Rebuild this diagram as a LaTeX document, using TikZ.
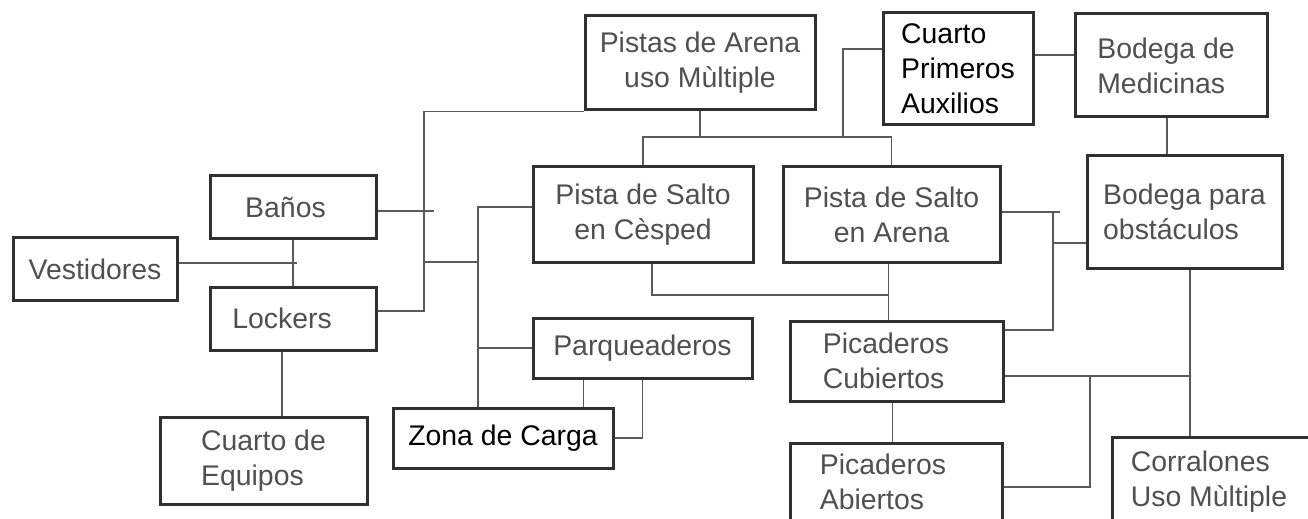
\documentclass[tikz,border=0pt]{standalone}
\usepackage{fontspec}
\setmainfont{Liberation Sans}
\usetikzlibrary{arrows,shapes,positioning,calc}
\definecolor{gristexte}{HTML}{505050}
\definecolor{grisbord}{HTML}{303030}
\definecolor{grisligne}{HTML}{5A5A5A}

\begin{document}
\begin{tikzpicture}[x=0.5pt, y=-0.5pt]
% cases et liens de l'organigramme
\tikzset{caja/.style={draw=grisbord, line width=1.5pt, text=gristexte, fill=white,
  font=\fontsize{14.2}{17.4}\selectfont, inner sep=0pt, align=center},
  lien/.style={grisligne, line width=0.8pt}}
\clip (0,0) rectangle (1308,519);
\fill[white] (0,0) rectangle (1308,519);

%colonne de gauche
\node[caja, minimum width=82pt, minimum height=31pt] (vest) at (95,269) {Vestidores};
\node[caja, minimum width=83pt, minimum height=31.5pt] (banos) at (293,207.5) {Baños\hspace*{7.5pt}};
\node[caja, minimum width=83pt, minimum height=31.5pt] (lockers) at (293,318.5) {Lockers\hspace*{11pt}};
\node[caja, align=left, minimum width=103.5pt, minimum height=43.5pt] (equipos) at (263.5,460.5) {Cuarto de\\Equipos};

%centre
\node[caja, text=black, minimum width=110pt, minimum height=30pt] (zona) at (503,438) {Zona de Carga};
\node[caja, minimum width=109.5pt, minimum height=30pt] (parq) at (642.5,348) {Parqueaderos};
\node[caja, minimum width=110pt, minimum height=47.5pt] (cesped) at (643,214.5) {Pista de Salto\\en Cèsped};
\node[caja, minimum width=115pt, minimum height=47pt] (arenamult) at (700,63) {Pistas de Arena\\uso Mùltiple};
\node[caja, minimum width=108.5pt, minimum height=47.5pt] (salarena) at (891.5,214.5) {Pista de Salto\\en Arena};
\node[caja, align=left, minimum width=106.5pt, minimum height=40pt] (cubiertos) at (896.5,361) {Picaderos\hspace*{10.5pt}\\Cubiertos};
\node[caja, align=left, minimum width=106pt, minimum height=39pt] (abiertos) at (896,482) {Picaderos\hspace*{13pt}\\Abiertos};

%colonne de droite
\node[caja, align=left, text=black, minimum width=75pt, minimum height=56pt] (auxilios) at (958,69) {Cuarto\\Primeros\\Auxilios};
\node[caja, align=left, minimum width=96pt, minimum height=51.5pt] (medicinas) at (1171,65.5) {Bodega de\hspace*{5pt}\\Medicinas};
\node[caja, align=left, minimum width=97.5pt, minimum height=56pt] (obstaculos) at (1184.5,212) {Bodega para\\obstáculos};
\node[caja, align=left, minimum width=104pt, minimum height=45pt] (corralones) at (1216,482) {Corralones\\Uso Mùltiple\hspace*{7pt}};

%liens vestiaires
\draw[lien] (banos) -- (lockers);
\draw[lien] ($(vest.east)+(0,-6)$) -- ++(118,0);
\draw[lien] ($(lockers.south)+(-11,0)$) coordinate (l1) -- (l1 |- equipos.north);

%bus de gauche
\coordinate (bg) at (424,110);
\coordinate (bj) at (424,262);
\coordinate (bm) at (478,207);
\draw[lien] (arenamult.south west) -- (arenamult.south west -| bg) |- ($(lockers.east)+(0,-7.5)$);
\draw[lien] ($(banos.east)+(0,3.5)$) -- ++(56,0);
\draw[lien] (bj) -- (bj -| bm);
\draw[lien] ($(cesped.west)+(0,-7.5)$) -- (bm) -- (bm |- zona.north);
\draw[lien] (parq.west) -- (parq.west -| bm);
\draw[lien] ($(parq.south west)+(52,0)$) coordinate (p1) -- (p1 |- zona.north);
\draw[lien] (parq.south) |- (zona.east);

%bus du haut
\coordinate (bh) at (700,137);
\coordinate (ba) at (843,137);
\draw[lien] (arenamult.south) -- (bh);
\draw[lien] (cesped.north) |- (bh) -| (salarena.north);
\draw[lien] (ba) |- ($(auxilios.west)+(0,-20)$);
\draw[lien] ($(auxilios.east)+(0,-14)$) coordinate (a1) -- (a1 -| medicinas.west);
\draw[lien] ($(medicinas.south)+(-4,0)$) coordinate (m1) -- (m1 |- obstaculos.north);

%bus de droite
\coordinate (bd) at (1053,212);
\coordinate (bc) at (888.5,295);
\coordinate (bk) at (1090,376);
\draw[lien] ($(salarena.east)+(0,-2.5)$) -- ++(58,0);
\draw[lien] (bd) |- ($(cubiertos.east)+(0,-31)$);
\draw[lien] ($(obstaculos.west)+(0,31)$) coordinate (o1) -- (o1 -| bd);
\draw[lien] ($(salarena.south)+(-3,0)$) coordinate (s1) -- (s1 |- cubiertos.north);
\draw[lien] ($(cesped.south)+(9,0)$) |- (bc);
\draw[lien] ($(cubiertos.south)+(-4,0)$) coordinate (c1) -- (c1 |- abiertos.north);
\draw[lien] ($(obstaculos.south)+(5.5,0)$) coordinate (o2) -- (o2 |- corralones.north);
\draw[lien] ($(cubiertos.east)+(0,15)$) coordinate (c2) -- (c2 -| o2);
\draw[lien] ($(abiertos.east)+(0,5)$) -| (bk);
\end{tikzpicture}
\end{document}
